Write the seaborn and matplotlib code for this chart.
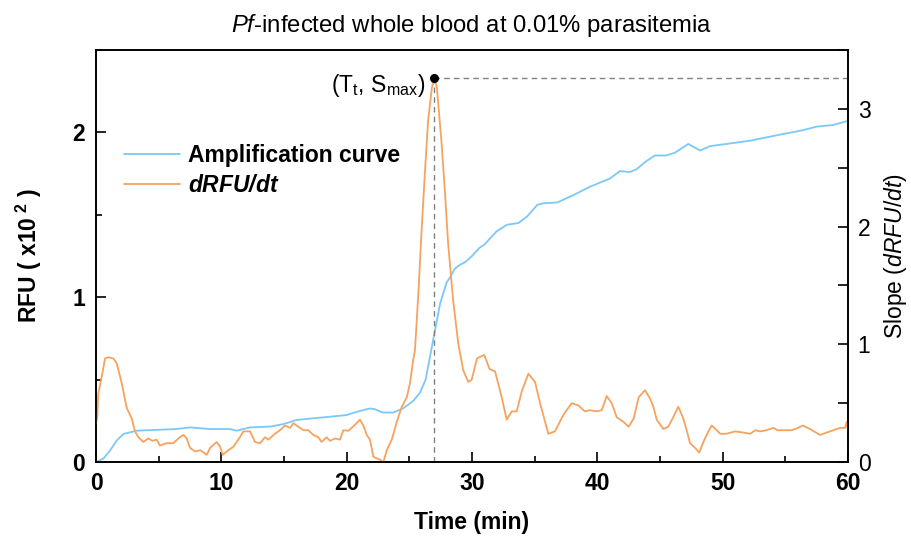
import matplotlib
matplotlib.use('Agg')
import matplotlib.pyplot as plt
from matplotlib.lines import Line2D
from matplotlib.ticker import MultipleLocator
import seaborn as sns

sns.set_style('ticks')
plt.rcParams['font.family'] = ['Liberation Sans', 'DejaVu Sans']
plt.rcParams['mathtext.fontset'] = 'custom'
plt.rcParams['mathtext.rm'] = 'Liberation Sans'
plt.rcParams['mathtext.it'] = 'Liberation Sans:italic'
plt.rcParams['mathtext.bf'] = 'Liberation Sans:bold'
plt.rcParams['mathtext.bfit'] = 'Liberation Sans:bold:italic'
for key in ['text.color', 'axes.labelcolor', 'xtick.color', 'ytick.color', 'axes.edgecolor']:
    plt.rcParams[key] = 'black'

# amplification curve (left axis, RFU x10^2)
t_rfu = [0, 0.58, 1.12, 1.65, 2.18, 2.71, 3.25, 4.84, 6.44, 7.5, 9.1, 10.7, 11.2,
         12.3, 13.9, 14.95, 16.0, 17.3, 18.7, 20.0, 21.06, 21.86, 22.26, 22.9,
         23.7, 24.5, 25.3, 25.85, 26.3, 26.65, 27.05, 27.45, 27.98, 28.25, 28.6,
         28.9, 29.5, 30.0, 30.6, 31.0, 31.97, 32.8, 33.7, 34.4, 35.2, 35.7, 36.8,
         38.1, 39.4, 41.0, 41.8, 42.6, 43.1, 43.9, 44.6, 45.5, 46.2, 47.26, 48.2,
         49.0, 50.3, 52.2, 53.5, 54.8, 56.2, 57.5, 58.8, 60.0]
rfu = [0, 0.02, 0.07, 0.13, 0.17, 0.18, 0.19, 0.195, 0.20, 0.21, 0.20, 0.20, 0.19,
       0.21, 0.215, 0.23, 0.255, 0.265, 0.275, 0.285, 0.31, 0.325, 0.32, 0.30,
       0.30, 0.325, 0.37, 0.42, 0.50, 0.64, 0.80, 0.96, 1.09, 1.12, 1.17,
       1.19, 1.215, 1.25, 1.30, 1.32, 1.40, 1.44, 1.45, 1.49, 1.56, 1.57, 1.575,
       1.62, 1.67, 1.72, 1.765, 1.76, 1.775, 1.825, 1.86, 1.86, 1.877, 1.93, 1.89,
       1.917, 1.93, 1.95, 1.97, 1.99, 2.01, 2.035, 2.045, 2.07]

# first derivative (right axis)
t_slope = [0.0, 0.1, 0.18, 0.45, 0.72, 0.98, 1.38, 1.65, 2.05, 2.45, 2.85, 3.11,
           3.38, 3.78, 4.17, 4.5, 4.84, 5.1, 5.64, 6.17, 6.57, 6.97, 7.24, 7.5,
           7.9, 8.3, 8.6, 8.83, 9.1, 9.63, 9.9, 10.1, 10.43, 10.96, 11.36, 11.76,
           12.29, 12.69, 13.09, 13.48, 13.75, 14.28, 14.68, 15.08, 15.5, 15.74,
           16.14, 16.54, 16.94, 17.34, 17.74, 18.0, 18.4, 18.67, 19.07, 19.47,
           19.73, 20.13, 20.4, 20.8, 21.06, 21.33, 21.6, 21.86, 22.13, 22.4,
           22.66, 22.93, 23.2, 23.6, 24.0, 24.4, 24.8, 25.05, 25.3, 25.45, 25.72,
           25.99, 26.25, 26.5, 26.8, 27.0, 27.2, 27.58, 27.85, 28.1, 28.5, 28.9,
           29.3, 29.7, 29.98, 30.4, 30.98, 31.4, 31.84, 32.37, 32.77, 33.17,
           33.57, 33.97, 34.5, 35.03, 35.43, 36.09, 36.62, 37.29, 37.96, 38.5,
           39.0, 39.4, 39.95, 40.35, 40.75, 41.15, 41.55, 42.1, 42.5, 42.9, 43.3,
           43.8, 44.2, 44.47, 44.74, 45.27, 45.66, 46.06, 46.46, 46.86, 47.13,
           47.4, 47.8, 48.14, 48.46, 48.86, 49.13, 49.53, 49.8, 50.32, 50.99,
           51.65, 52.2, 52.6, 52.98, 53.5, 54.04, 54.4, 55.5, 55.9, 56.4, 56.97,
           57.77, 58.57, 59.37, 59.77, 59.9, 60.0]
slope = [0.33, 0.38, 0.58, 0.72, 0.88, 0.89, 0.88, 0.84, 0.67, 0.46, 0.37, 0.26,
         0.21, 0.17, 0.20, 0.18, 0.19, 0.14, 0.16, 0.16, 0.20, 0.23, 0.20, 0.12,
         0.09, 0.10, 0.08, 0.06, 0.12, 0.17, 0.13, 0.06, 0.09, 0.13, 0.19, 0.26,
         0.26, 0.17, 0.16, 0.21, 0.19, 0.24, 0.27, 0.31, 0.29, 0.33,
         0.30, 0.27, 0.27, 0.23, 0.21, 0.17, 0.21, 0.18, 0.20, 0.19,
         0.27, 0.265, 0.29, 0.33, 0.36, 0.31, 0.23, 0.19, 0.045, 0.03,
         0.02, 0.0, 0.10, 0.19, 0.34, 0.47, 0.55, 0.67, 0.86, 0.95, 1.43,
         1.99, 2.47, 2.90, 3.18, 3.26, 3.18, 2.70, 2.28, 1.85, 1.37, 1.01,
         0.78, 0.68, 0.70, 0.88, 0.91, 0.79, 0.77, 0.55, 0.36, 0.43,
         0.43, 0.60, 0.75, 0.68, 0.50, 0.24, 0.26, 0.40, 0.50, 0.48,
         0.43, 0.44, 0.43, 0.44, 0.56, 0.50, 0.38, 0.34, 0.30, 0.37, 0.55,
         0.61, 0.54, 0.47, 0.36, 0.28, 0.30, 0.38, 0.47, 0.37, 0.27,
         0.16, 0.12, 0.08, 0.17, 0.26, 0.31, 0.27, 0.24, 0.24, 0.26,
         0.25, 0.24, 0.27, 0.26, 0.27, 0.29, 0.27, 0.27, 0.285, 0.31, 0.28,
         0.23, 0.26, 0.29, 0.29, 0.34, 0.27]

tt = 27.0
smax = 3.26

blue = '#7cc8f7'
orange = '#f5a35f'
fs = 16.5

fig = plt.figure(figsize=(9.11, 5.42), dpi=100)
ax = fig.add_axes([0.1054, 0.1476, 0.8254, 0.7601])
ax2 = ax.twinx()

sns.lineplot(x=t_rfu, y=rfu, ax=ax, color=blue, linewidth=1.3, legend=False)
sns.lineplot(x=t_slope, y=slope, ax=ax2, color=orange, linewidth=1.3, legend=False)

# threshold time / max slope markers
ax2.plot([tt, 60], [smax, smax], color='#808080', linestyle=(0, (4, 3)), linewidth=1)
ax2.plot([tt, tt], [0, smax], color='#808080', linestyle=(0, (4, 3)), linewidth=1)
ax2.plot([tt], [smax], 'o', color='black', markersize=5.5)
ax2.annotate(r'(T$_\mathrm{t}$, S$_\mathrm{max}$)', xy=(tt, smax), xytext=(-7, -5),
             textcoords='offset points', ha='right', va='center', fontsize=fs)

ax.set_xlim(0, 60)
ax.set_ylim(0, 2.5)
ax2.set_ylim(0, 3.5)
ax.xaxis.set_major_locator(MultipleLocator(10))
ax.xaxis.set_minor_locator(MultipleLocator(5))
ax.yaxis.set_major_locator(MultipleLocator(1))
ax.yaxis.set_minor_locator(MultipleLocator(0.5))
ax2.yaxis.set_major_locator(MultipleLocator(1))
ax2.yaxis.set_minor_locator(MultipleLocator(0.5))

ax.tick_params(axis='x', which='both', direction='in', top=False, pad=7)
ax.tick_params(axis='y', which='both', direction='in', right=False, pad=8)
ax.tick_params(which='major', length=7, width=1.2, labelsize=fs)
ax.tick_params(which='minor', length=4, width=1.2)
ax2.tick_params(axis='y', which='both', direction='in', pad=7)
ax2.tick_params(which='major', length=7, width=1.2, labelsize=fs)
ax2.tick_params(which='minor', length=7, width=1.2)

for lab in ax.get_xticklabels() + ax.get_yticklabels():
    lab.set_fontweight('bold')

for a in (ax, ax2):
    for sp in a.spines.values():
        sp.set_visible(True)
        sp.set_color('black')
        sp.set_linewidth(1.2)

ax.set_xlabel('Time (min)', fontsize=fs, fontweight='bold', labelpad=12)
ax.set_ylabel(r'RFU ( x10$^{\ \mathbf{2}}$ )', fontsize=fs, fontweight='bold', labelpad=20)
ax2.set_ylabel(r'Slope ($\mathit{dRFU/dt}$)', fontsize=fs, labelpad=8)
ax.set_title(r'$\mathit{Pf}$-infected whole blood at 0.01% parasitemia', fontsize=17.2, pad=13)

handles = [Line2D([], [], color=blue, linewidth=1.3),
           Line2D([], [], color=orange, linewidth=1.3)]
labels = ['Amplification curve', r'$\mathbfit{dRFU/dt}$']
leg = ax2.legend(handles, labels, loc='upper left', bbox_to_anchor=(0.037, 0.772),
                 frameon=False, borderpad=0, borderaxespad=0, handlelength=2.45,
                 handletextpad=0.35, labelspacing=0.3,
                 prop={'size': fs, 'weight': 'bold'})

fig.savefig('out.png', dpi=100)
